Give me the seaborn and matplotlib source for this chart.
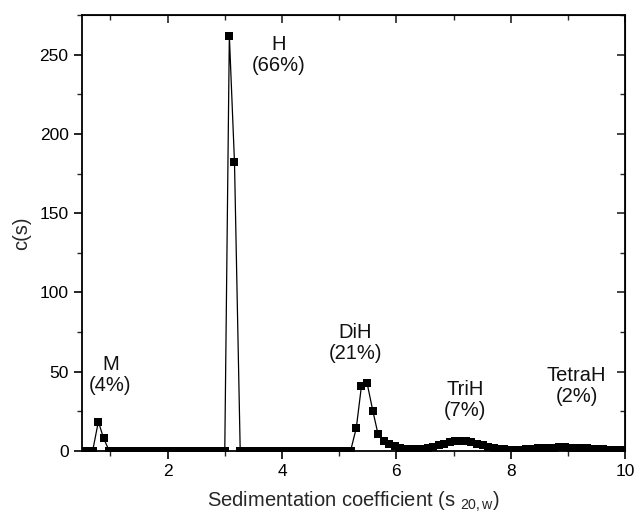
import matplotlib
matplotlib.use("Agg")
import matplotlib.pyplot as plt
import seaborn as sns
import pandas as pd
from matplotlib.ticker import MultipleLocator, NullFormatter

# sedimentation coefficient grid (s20,w)
s_values = [
    0.50, 0.60, 0.69, 0.79, 0.88, 0.98, 1.08, 1.17, 1.27, 1.36,
    1.46, 1.56, 1.65, 1.75, 1.84, 1.94, 2.04, 2.13, 2.23, 2.32,
    2.42, 2.52, 2.61, 2.71, 2.80, 2.90, 3.00, 3.08, 3.17, 3.27,
    3.38, 3.48, 3.57, 3.67, 3.76, 3.86, 3.96, 4.05, 4.15, 4.24,
    4.34, 4.44, 4.53, 4.63, 4.72, 4.82, 4.92, 5.01, 5.11, 5.20,
    5.30, 5.39, 5.49, 5.59, 5.68, 5.78, 5.87, 5.97, 6.07, 6.16,
    6.26, 6.35, 6.45, 6.55, 6.64, 6.74, 6.83, 6.93, 7.03, 7.12,
    7.22, 7.31, 7.41, 7.51, 7.60, 7.70, 7.79, 7.89, 7.99, 8.08,
    8.18, 8.27, 8.37, 8.47, 8.56, 8.66, 8.75, 8.85, 8.95, 9.04,
    9.14, 9.23, 9.33, 9.43, 9.52, 9.62, 9.71, 9.81, 9.91, 10.00,
]

# c(s) values
c_values = [
    0.0, 0.0, 0.0, 18.5, 8.0, 0.0, 0.0, 0.0, 0.0, 0.0,
    0.0, 0.0, 0.0, 0.0, 0.0, 0.0, 0.0, 0.0, 0.0, 0.0,
    0.0, 0.0, 0.0, 0.0, 0.0, 0.0, 0.0, 262.0, 182.0, 0.0,
    0.0, 0.0, 0.0, 0.0, 0.0, 0.0, 0.0, 0.0, 0.0, 0.0,
    0.0, 0.0, 0.0, 0.0, 0.0, 0.0, 0.0, 0.0, 0.0, 0.0,
    14.5, 41.0, 42.5, 25.0, 10.5, 6.3, 4.3, 2.8, 1.8, 1.3,
    1.1, 1.1, 1.3, 1.8, 2.5, 3.4, 4.4, 5.3, 6.0, 6.3,
    6.1, 5.5, 4.6, 3.6, 2.7, 1.9, 1.3, 0.9, 0.7, 0.7,
    0.8, 1.0, 1.2, 1.5, 1.7, 1.9, 2.1, 2.2, 2.2, 2.1,
    2.0, 1.8, 1.6, 1.4, 1.2, 1.0, 0.8, 0.6, 0.5, 0.4,
]

# peak annotations
peak_labels = ["M\n(4%)", "H\n(66%)", "DiH\n(21%)", "TriH\n(7%)", "TetraH\n(2%)"]
label_x = [1.0, 3.95, 5.28, 7.2, 9.15]
label_y = [48, 250, 68, 32, 41]

df = pd.DataFrame({"s": s_values, "c": c_values})

sns.set_style("ticks")
plt.rcParams["font.family"] = ["Liberation Sans", "DejaVu Sans"]
plt.rcParams["mathtext.fontset"] = "custom"
plt.rcParams["mathtext.rm"] = "Liberation Sans"
plt.rcParams["mathtext.it"] = "Liberation Sans"

fig = plt.figure(figsize=(6.34, 5.2), dpi=100)
ax = fig.add_axes([0.129, 0.133, 0.857, 0.838])

sns.lineplot(data=df, x="s", y="c", ax=ax, sort=False, color="black",
             linewidth=0.9, marker="s", markersize=6.2, markeredgewidth=0,
             markerfacecolor="black")

for txt, lx, ly in zip(peak_labels, label_x, label_y):
    ax.text(lx, ly, txt, ha="center", va="center", fontsize=14.5,
            linespacing=1.15, color="#111111")

ax.set_xlim(0.5, 10)
ax.set_ylim(0, 275)
ax.xaxis.set_major_locator(MultipleLocator(2))
ax.xaxis.set_minor_locator(MultipleLocator(1))
ax.yaxis.set_major_locator(MultipleLocator(50))
ax.yaxis.set_minor_locator(MultipleLocator(25))
ax.tick_params(which="major", direction="out", length=6, width=1.2,
               labelsize=12.5, colors="black")
ax.tick_params(which="minor", direction="out", length=3.5, width=1.0)

ax.set_xlabel(r"Sedimentation coefficient (s $_{\mathregular{20,w}}$)",
              fontsize=14.5, labelpad=8)
ax.set_ylabel("c(s)", fontsize=14.5, labelpad=6)

for sp in ax.spines.values():
    sp.set_visible(True)
    sp.set_linewidth(1.3)
    sp.set_color("black")

# mirrored axes with inward ticks
top = ax.secondary_xaxis("top")
top.xaxis.set_major_locator(MultipleLocator(2))
top.xaxis.set_minor_locator(MultipleLocator(1))
top.xaxis.set_major_formatter(NullFormatter())
top.tick_params(which="major", direction="in", length=6, width=1.2)
top.tick_params(which="minor", direction="in", length=3.5, width=1.0)

right = ax.secondary_yaxis("right")
right.yaxis.set_major_locator(MultipleLocator(50))
right.yaxis.set_minor_locator(MultipleLocator(25))
right.yaxis.set_major_formatter(NullFormatter())
right.tick_params(which="major", direction="in", length=6, width=1.2)
right.tick_params(which="minor", direction="in", length=3.5, width=1.0)

fig.savefig("out.png", dpi=100)
